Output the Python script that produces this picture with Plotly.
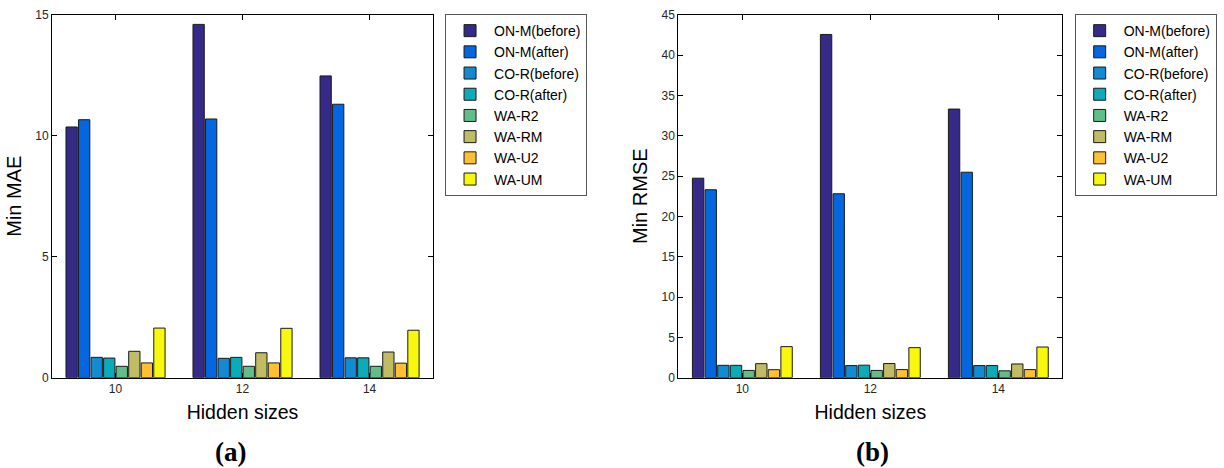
import plotly.graph_objects as go

categories = ["10", "12", "14"]
series_names = ["ON-M(before)", "ON-M(after)", "CO-R(before)", "CO-R(after)",
                "WA-R2", "WA-RM", "WA-U2", "WA-UM"]
colors = ["#352A87", "#0467DF", "#148AD3", "#0DAAB8", "#62BE88", "#BFBC63", "#FDC033", "#F8F80F"]

mae_on_m_before = [10.36, 14.60, 12.47]
mae_on_m_after = [10.66, 10.69, 11.30]
mae_co_r_before = [0.84, 0.80, 0.82]
mae_co_r_after = [0.81, 0.84, 0.82]
mae_wa_r2 = [0.47, 0.47, 0.47]
mae_wa_rm = [1.09, 1.03, 1.06]
mae_wa_u2 = [0.61, 0.61, 0.60]
mae_wa_um = [2.05, 2.04, 1.96]

rmse_on_m_before = [24.73, 42.55, 33.30]
rmse_on_m_after = [23.30, 22.80, 25.47]
rmse_co_r_before = [1.53, 1.50, 1.50]
rmse_co_r_after = [1.53, 1.55, 1.50]
rmse_wa_r2 = [0.90, 0.90, 0.85]
rmse_wa_rm = [1.74, 1.75, 1.70]
rmse_wa_u2 = [0.99, 1.00, 1.00]
rmse_wa_um = [3.85, 3.72, 3.80]

mae = [mae_on_m_before, mae_on_m_after, mae_co_r_before, mae_co_r_after,
       mae_wa_r2, mae_wa_rm, mae_wa_u2, mae_wa_um]
rmse = [rmse_on_m_before, rmse_on_m_after, rmse_co_r_before, rmse_co_r_after,
        rmse_wa_r2, rmse_wa_rm, rmse_wa_u2, rmse_wa_um]

fig = go.Figure()
for name, col, vals in zip(series_names, colors, mae):
    fig.add_trace(go.Bar(x=categories, y=vals, name=name, marker_color=col,
                         marker_line=dict(color="#1a1a1a", width=1),
                         xaxis="x", yaxis="y", legend="legend"))
for name, col, vals in zip(series_names, colors, rmse):
    fig.add_trace(go.Bar(x=categories, y=vals, name=name, marker_color=col,
                         marker_line=dict(color="#1a1a1a", width=1),
                         xaxis="x2", yaxis="y2", legend="legend2"))

FONT = "Liberation Sans, Arial, sans-serif"
tickfont = dict(family=FONT, size=12, color="#262626")
xtitlefont = dict(family=FONT, size=19.5, color="#000000")
ytitlefont = dict(family=FONT, size=20, color="#000000")

common_x = dict(type="category", range=[-0.5, 2.5], showline=True, linecolor="black",
                linewidth=1, mirror="ticks", ticks="inside", ticklen=5, tickcolor="black",
                tickfont=tickfont, showgrid=False, zeroline=False, automargin=False,
                title=dict(text="Hidden sizes", font=xtitlefont, standoff=10))
common_y = dict(showline=True, linecolor="black", linewidth=1, mirror="ticks",
                ticks="inside", ticklen=5, tickcolor="black", tickfont=tickfont,
                showgrid=False, zeroline=False, automargin=False)

legend_common = dict(font=dict(family=FONT, size=14, color="#000000"),
                     bordercolor="#555555", borderwidth=1, bgcolor="white",
                     xanchor="left", yanchor="top", tracegroupgap=0,
                     itemwidth=38, itemclick=False)

fig.update_layout(
    width=1224, height=468,
    margin=dict(l=0, r=0, t=0, b=0),
    paper_bgcolor="white", plot_bgcolor="white",
    barmode="group", bargap=0.21, bargroupgap=0.1,
    xaxis=dict(common_x, domain=[0.0425, 0.3538], anchor="y"),
    yaxis=dict(common_y, domain=[0.193, 0.9686], anchor="x", range=[0, 15],
               tickvals=[0, 5, 10, 15],
               title=dict(text="Min MAE", font=ytitlefont, standoff=8)),
    xaxis2=dict(common_x, domain=[0.5542, 0.8679], anchor="y2"),
    yaxis2=dict(common_y, domain=[0.193, 0.9686], anchor="x2", range=[0, 45],
                tickvals=list(range(0, 46, 5)),
                title=dict(text="Min RMSE", font=ytitlefont, standoff=8)),
    legend=dict(legend_common, x=0.3636, y=0.97),
    legend2=dict(legend_common, x=0.878, y=0.97),
    annotations=[
        dict(text="<b>(a)</b>", x=0.1885, y=1 - 452 / 468, xref="paper", yref="paper",
             xanchor="center", yanchor="middle", showarrow=False,
             font=dict(family="Liberation Serif, Times New Roman, serif", size=27, color="black")),
        dict(text="<b>(b)</b>", x=0.7125, y=1 - 452 / 468, xref="paper", yref="paper",
             xanchor="center", yanchor="middle", showarrow=False,
             font=dict(family="Liberation Serif, Times New Roman, serif", size=27, color="black")),
    ],
)

fig.write_html("out.html")
